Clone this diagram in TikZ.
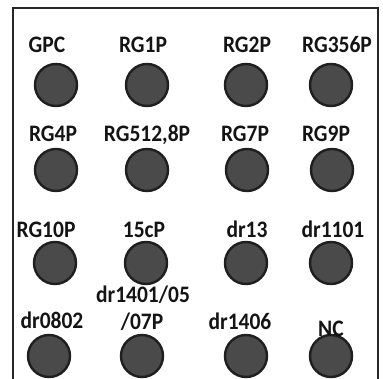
\documentclass[tikz,border=0pt]{standalone}
\usepackage{fontspec}
\setmainfont{Carlito}
% labels are set slightly taller than the font's natural shape
\newcommand{\talltext}[1]{\scalebox{1}[1.1]{#1}}
\begin{document}
\begin{tikzpicture}[x=1pt,y=-1pt,
  well/.style={circle,draw=black!88,line width=2.4pt,fill=black!71,minimum size=42pt,inner sep=0pt},
  tag/.style={anchor=base,inner sep=0pt,font=\fontsize{21.5}{24}\selectfont\bfseries,text=black!92}]
\useasboundingbox (0,0) rectangle (383,379);
\clip (0,0) rectangle (383,379);
% outer frame, open at the bottom
\draw[line width=2.6pt,black!85] (13,390) -- (13,8) -- (378,8) -- (378,390);
% row 1
\node[well] (w11) at (56,85) {};
\node[well] (w12) at (147,85) {};
\node[well] (w13) at (246,85) {};
\node[well] (w14) at (331,85) {};
\node[tag] (t11) at (47,53) {\talltext{GPC}};
\node[tag] (t12) at (143,53) {\talltext{RG1P}};
\node[tag] (t13) at (247,53) {\talltext{RG2P}};
\node[tag] (t14) at (337,53) {\talltext{RG356P}};
% row 2
\node[well] (w21) at (56,170) {};
\node[well] (w22) at (147,170) {};
\node[well] (w23) at (247,170) {};
\node[well] (w24) at (332,170) {};
\node[tag] (t21) at (53,142) {\talltext{RG4P}};
\node[tag] (t22) at (147,142) {\talltext{RG512,8P}};
\node[tag] (t23) at (245,142) {\talltext{RG7P}};
\node[tag] (t24) at (326,142) {\talltext{RG9P}};
% row 3
\node[well] (w31) at (55,263) {};
\node[well] (w32) at (146,263) {};
\node[well] (w33) at (246,263) {};
\node[well] (w34) at (331,263) {};
\node[tag] (t31) at (46,238) {\talltext{RG10P}};
\node[tag] (t32) at (144,238) {\talltext{15cP}};
\node[tag] (t33) at (247,238) {\talltext{dr13}};
\node[tag] (t34) at (333,238) {\talltext{dr1101}};
% row 4
\node[well] (w41) at (49,356) {};
\node[well] (w42) at (142,356) {};
\node[well] (w43) at (246,356) {};
\node[well] (w44) at (331,356) {};
\node[tag] (t41) at (52,329) {\talltext{dr0802}};
\node[tag] (t42a) at (143,303) {\talltext{dr1401/05}};
\node[tag] (t42b) at (142,330) {\talltext{/07P}};
\node[tag] (t43) at (240,330) {\talltext{dr1406}};
\node[tag] (t44) at (331,337) {\talltext{NC}};
\end{tikzpicture}
\end{document}
